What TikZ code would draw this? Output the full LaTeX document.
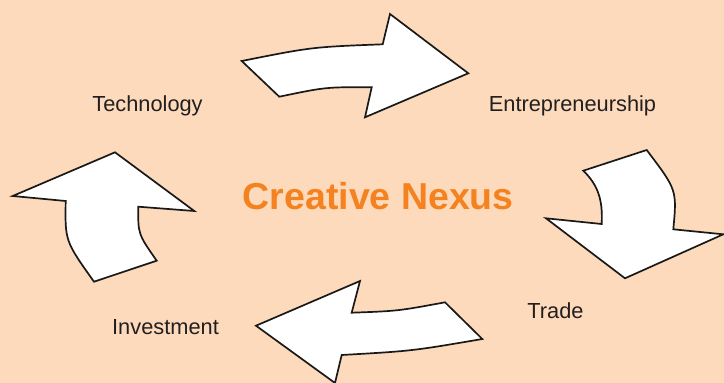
\documentclass[tikz,border=0pt]{standalone}
\usepackage{fontspec}
\setmainfont{Liberation Sans}
\usetikzlibrary{calc}

\begin{document}
\begin{tikzpicture}[x=1pt,y=-1pt,line cap=round,line join=miter]
  % ----- styles & colors -----
    \definecolor{bgpeach}{RGB}{253,218,187}  % background
    \definecolor{nexus}{RGB}{245,130,32}     % orange title
    \definecolor{labelgray}{RGB}{35,31,32}   % label text
  \tikzset{
    cyclearrow/.style={draw=black!90,fill=white,line width=1.7pt},
    steplabel/.style={anchor=base,text=labelgray,font=\fontsize{21.8}{26}\selectfont},
    titlelabel/.style={anchor=base,text=nexus,font=\bfseries\fontsize{37.5}{44}\selectfont}
  }

  % ----- background -----
  \fill[bgpeach] (0,0) rectangle (724,383);
  \useasboundingbox (0,0) rectangle (724,383);

  % ----- the four arrows -----
  % top: Technology -> Entrepreneurship
  \draw[cyclearrow] (241.7,61) .. controls (312,47) .. (382.7,44.3)
    -- (390,14) -- (468.3,73.3) -- (365,117.3) -- (371.7,87.3)
    .. controls (326,87) .. (279.3,96.7) -- cycle;

  % right: Entrepreneurship -> Trade
  \draw[cyclearrow] (583.3,170.7) -- (646.7,150)
    .. controls (677,190) .. (673.3,229.3)
    -- (723.3,234.3) -- (625,278.3) -- (546,218.3) -- (601.7,224)
    .. controls (603,200) and (598,185) .. cycle;

  % bottom: Trade -> Investment
  \draw[cyclearrow] (445,302.3) -- (482.3,339)
    .. controls (412,351) .. (341.7,355)
    -- (335,383) -- (256,325.7) -- (360,281) -- (351.7,312.7)
    .. controls (398,311) .. cycle;

  % left: Investment -> Technology
  \draw[cyclearrow] (94,281.7) -- (156.7,260.7)
    .. controls (138,234) .. (138.3,206.7)
    -- (194.3,211) -- (115,152.3) -- (12.7,196) -- (65.7,201)
    .. controls (65,241) .. cycle;

  % ----- labels -----
  \node[titlelabel] (nexus) at (378.3,209.3) {Creative Nexus};
  \node[steplabel] (tech) at (147.5,111) {Technology};
  \node[steplabel] (entre) at (572.5,111.5) {Entrepreneurship};
  \node[steplabel] (trade) at (555.5,318.3) {Trade};
  \node[steplabel] (invest) at (165.5,334) {Investment};

\end{tikzpicture}
\end{document}
